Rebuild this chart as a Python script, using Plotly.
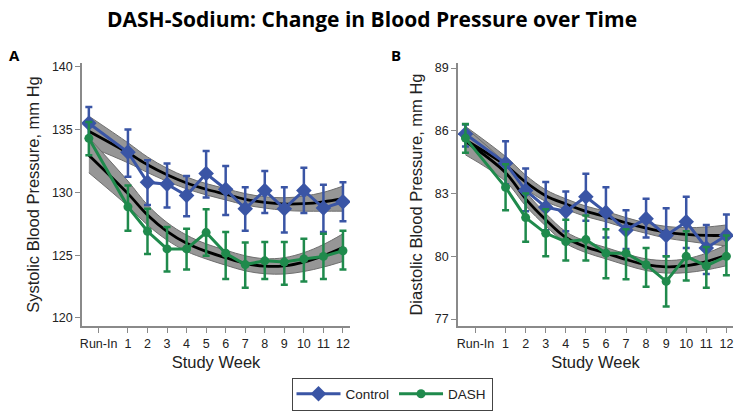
import plotly.graph_objects as go

# ---------------- data ----------------
weeks = [-1, 1, 2, 3, 4, 5, 6, 7, 8, 9, 10, 11, 12]
tick_vals = [-0.5, 1, 2, 3, 4, 5, 6, 7, 8, 9, 10, 11, 12]
tick_text = ["Run-In", "1", "2", "3", "4", "5", "6", "7", "8", "9", "10", "11", "12"]

# Systolic (panel A)
sbp_control = [135.5, 133.2, 130.8, 130.65, 129.75, 131.5, 130.25, 128.7, 130.15, 128.7, 130.15, 128.75, 129.25]
sbp_control_up = [136.8, 135.0, 132.55, 132.3, 131.3, 133.3, 132.1, 130.4, 131.7, 130.4, 131.95, 130.6, 130.8]
sbp_control_lo = [134.2, 131.25, 129.0, 128.8, 128.1, 129.6, 128.2, 126.95, 128.35, 126.8, 128.35, 126.85, 127.7]
sbp_dash = [134.3, 128.85, 126.9, 125.5, 125.5, 126.8, 125.15, 124.25, 124.55, 124.45, 124.7, 124.9, 125.35]
sbp_dash_up = [135.6, 130.55, 128.7, 127.25, 127.1, 128.65, 126.85, 126.0, 126.05, 126.05, 126.3, 126.7, 126.95]
sbp_dash_lo = [132.95, 126.95, 125.1, 123.7, 123.85, 124.95, 123.1, 122.4, 123.1, 122.65, 122.9, 123.1, 123.85]
sbp_control_fit = [134.87, 133.15, 132.2, 131.4, 130.75, 130.25, 129.85, 129.45, 129.2, 129.07, 129.1, 129.25, 129.5]
sbp_control_band = [1.2, 0.8, 0.62, 0.52, 0.47, 0.45, 0.45, 0.45, 0.45, 0.5, 0.6, 0.75, 1.0]
sbp_dash_fit = [132.96, 129.9, 128.2, 126.9, 125.95, 125.3, 124.8, 124.35, 124.12, 124.15, 124.45, 124.95, 125.6]
sbp_dash_band = [1.4, 1.0, 0.8, 0.7, 0.65, 0.6, 0.6, 0.6, 0.6, 0.65, 0.75, 0.9, 1.1]

# Diastolic (panel B)
dbp_control = [85.85, 84.45, 83.15, 82.35, 82.15, 82.85, 82.1, 81.25, 81.8, 81.0, 81.65, 80.4, 81.0]
dbp_control_up = [86.3, 85.5, 84.2, 83.55, 83.1, 83.95, 83.3, 82.2, 82.75, 82.3, 82.85, 81.5, 82.0]
dbp_control_lo = [85.25, 83.45, 82.15, 81.25, 81.2, 81.7, 80.9, 80.35, 80.9, 80.0, 80.4, 79.15, 80.0]
dbp_dash = [85.65, 83.3, 81.85, 81.1, 80.7, 80.8, 80.15, 80.15, 79.6, 78.8, 80.0, 79.55, 80.0]
dbp_dash_up = [86.33, 84.4, 83.0, 82.25, 81.75, 81.95, 81.3, 81.3, 80.4, 80.0, 81.2, 80.45, 81.0]
dbp_dash_lo = [84.95, 82.2, 80.7, 80.0, 79.8, 79.8, 78.95, 78.9, 78.55, 77.6, 78.85, 78.5, 79.1]
dbp_control_fit = [85.56, 84.35, 83.55, 82.9, 82.5, 82.15, 81.9, 81.6, 81.35, 81.15, 81.05, 81.0, 81.0]
dbp_control_band = [0.65, 0.42, 0.33, 0.28, 0.25, 0.25, 0.25, 0.25, 0.25, 0.28, 0.32, 0.4, 0.5]
dbp_dash_fit = [85.5, 84.0, 82.75, 81.75, 80.9, 80.45, 80.15, 79.85, 79.6, 79.5, 79.55, 79.75, 80.05]
dbp_dash_band = [0.65, 0.42, 0.34, 0.3, 0.28, 0.27, 0.27, 0.27, 0.28, 0.3, 0.33, 0.4, 0.5]

BLUE = "#3a55a5"
GREEN = "#1f8a4c"
BAND_FILL = "rgb(150,150,150)"
BAND_EDGE = "rgb(110,110,110)"

fig = go.Figure()


def add_band(fit, half, xa, ya):
    up = [f + h for f, h in zip(fit, half)]
    lo = [f - h for f, h in zip(fit, half)]
    fig.add_trace(go.Scatter(x=weeks, y=up, mode="lines", line=dict(color=BAND_EDGE, width=1, shape="spline"),
                             hoverinfo="skip", showlegend=False, xaxis=xa, yaxis=ya))
    fig.add_trace(go.Scatter(x=weeks, y=lo, mode="lines", line=dict(color=BAND_EDGE, width=1, shape="spline"),
                             fill="tonexty", fillcolor=BAND_FILL,
                             hoverinfo="skip", showlegend=False, xaxis=xa, yaxis=ya))


def add_fit(fit, xa, ya):
    fig.add_trace(go.Scatter(x=weeks, y=fit, mode="lines", line=dict(color="black", width=2.8, shape="spline"),
                             hoverinfo="skip", showlegend=False, xaxis=xa, yaxis=ya))


def add_data(vals, up, lo, name, color, symbol, size, xa, ya, show):
    fig.add_trace(go.Scatter(
        x=weeks, y=vals, mode="lines+markers", name=name,
        line=dict(color=color, width=3),
        marker=dict(color=color, symbol=symbol, size=size),
        error_y=dict(type="data", symmetric=False,
                     array=[u - v for u, v in zip(up, vals)],
                     arrayminus=[v - l for l, v in zip(lo, vals)],
                     color=color, thickness=2.5, width=3.5),
        showlegend=show, legendgroup=name, xaxis=xa, yaxis=ya))


# Panel A
add_band(sbp_control_fit, sbp_control_band, "x", "y")
add_band(sbp_dash_fit, sbp_dash_band, "x", "y")
add_fit(sbp_control_fit, "x", "y")
add_fit(sbp_dash_fit, "x", "y")
add_data(sbp_control, sbp_control_up, sbp_control_lo, "Control", BLUE, "diamond", 12, "x", "y", True)
add_data(sbp_dash, sbp_dash_up, sbp_dash_lo, "DASH", GREEN, "circle", 9, "x", "y", True)

# Panel B
add_band(dbp_control_fit, dbp_control_band, "x2", "y2")
add_band(dbp_dash_fit, dbp_dash_band, "x2", "y2")
add_fit(dbp_control_fit, "x2", "y2")
add_fit(dbp_dash_fit, "x2", "y2")
add_data(dbp_control, dbp_control_up, dbp_control_lo, "Control", BLUE, "diamond", 12, "x2", "y2", False)
add_data(dbp_dash, dbp_dash_up, dbp_dash_lo, "DASH", GREEN, "circle", 9, "x2", "y2", False)

W, H = 744, 415
AX_FONT = dict(family="Liberation Sans, Arial, sans-serif", size=12.5, color="#222")
TITLE_FONT = dict(family="Liberation Sans, Arial, sans-serif", size=16.5, color="#222")

xcommon = dict(tickmode="array", tickvals=tick_vals, ticktext=tick_text, showline=True, linecolor="#8a8a8a",
               linewidth=1.5, ticks="outside", ticklen=5, tickcolor="#8a8a8a", showgrid=False, zeroline=False,
               tickfont=AX_FONT, automargin=False,
               title=dict(text="Study Week", font=TITLE_FONT, standoff=7))
ycommon = dict(showline=True, linecolor="#8a8a8a", linewidth=1.5, ticks="outside", ticklen=5, tickcolor="#8a8a8a",
               showgrid=False, zeroline=False, tickfont=AX_FONT, automargin=False)

ydom = [1 - 326 / H, 1 - 63 / H]

fig.update_layout(
    width=W, height=H,
    margin=dict(l=0, r=0, t=0, b=0, autoexpand=False),
    paper_bgcolor="white", plot_bgcolor="white",
    xaxis=dict(domain=[82 / W, 350 / W], range=[-1.35, 12.36], anchor="y", **xcommon),
    yaxis=dict(domain=ydom, range=[119.36, 140.3], tickvals=[120, 125, 130, 135, 140], anchor="x",
               title=dict(text="Systolic Blood Pressure, mm Hg", font=TITLE_FONT, standoff=8), **ycommon),
    xaxis2=dict(domain=[458 / W, 733 / W], range=[-1.37, 12.33], anchor="y2", **xcommon),
    yaxis2=dict(domain=ydom, range=[76.67, 89.24], tickvals=[77, 80, 83, 86, 89], anchor="x2",
                title=dict(text="Diastolic Blood Pressure, mm Hg", font=TITLE_FONT, standoff=8), **ycommon),
    legend=dict(orientation="h", x=392 / W, y=1 - 394 / H, xanchor="center", yanchor="middle",
                bordercolor="#444", borderwidth=1, bgcolor="white",
                font=dict(family="Liberation Sans, Arial, sans-serif", size=13.5, color="#222"),
                itemwidth=44, tracegroupgap=0),
    annotations=[
        dict(text="<b>DASH-Sodium: Change in Blood Pressure over Time</b>", x=372 / W, y=1 - 19 / H,
             xref="paper", yref="paper", showarrow=False, xanchor="center", yanchor="middle",
             font=dict(family="Open Sans, sans-serif", size=21, color="black")),
        dict(text="<b>A</b>", x=14 / W, y=1 - 55 / H, xref="paper", yref="paper", showarrow=False,
             xanchor="center", yanchor="middle", font=dict(family="Open Sans, sans-serif", size=15, color="black")),
        dict(text="<b>B</b>", x=396 / W, y=1 - 55 / H, xref="paper", yref="paper", showarrow=False,
             xanchor="center", yanchor="middle", font=dict(family="Open Sans, sans-serif", size=15, color="black")),
    ],
)

fig.write_html("out.html", config={"displayModeBar": False},
               post_script="document.body.style.margin='0';document.body.style.overflow='hidden';")
